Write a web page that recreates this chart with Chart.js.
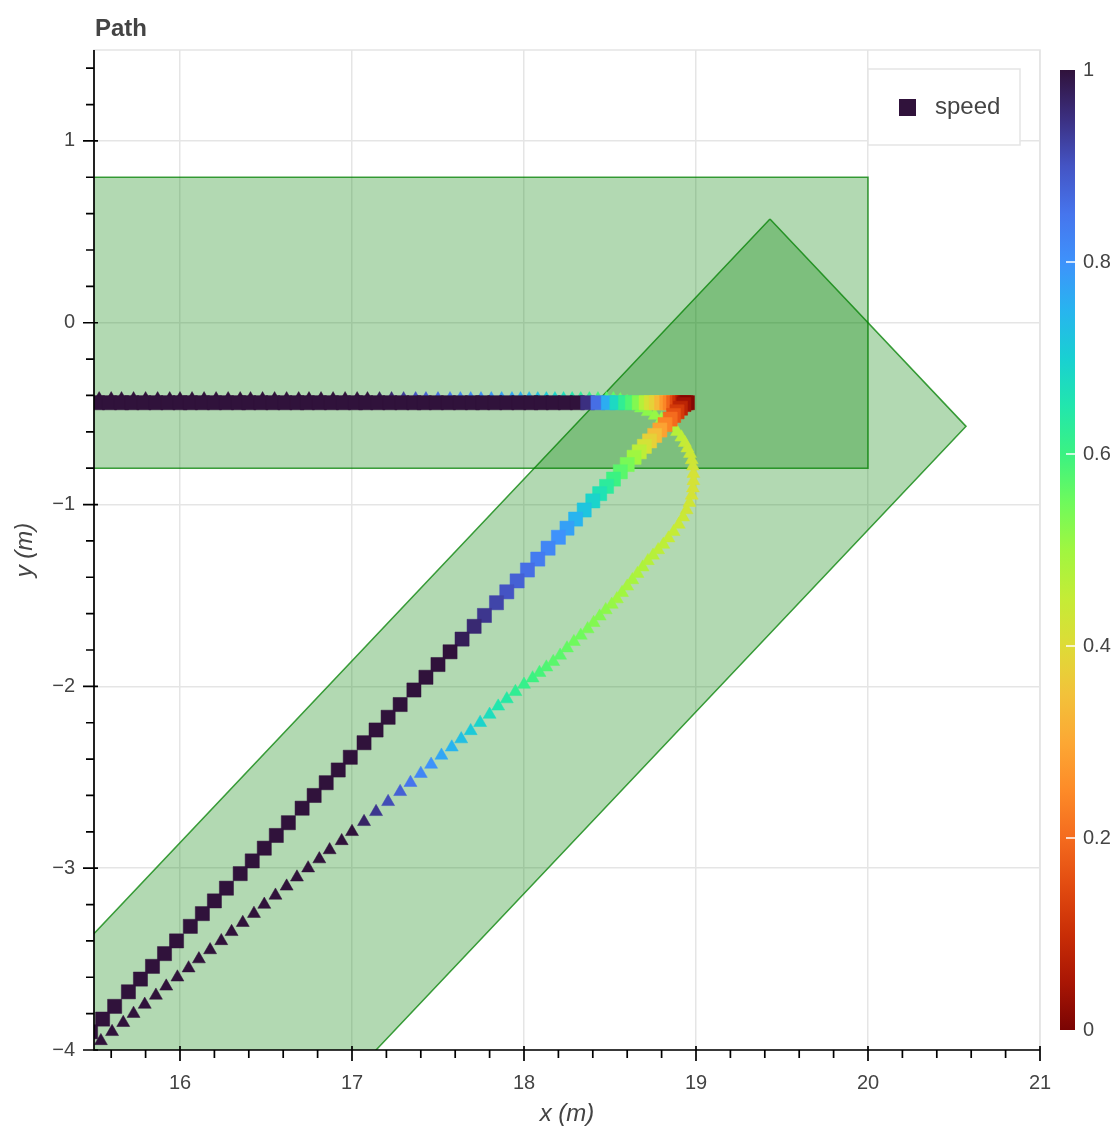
<!DOCTYPE html>
<html>
<head>
<meta charset="utf-8">
<title>Path</title>
<script src="https://cdn.jsdelivr.net/npm/chart.js@4.4.0/dist/chart.umd.min.js"></script>
<style>
  html, body { margin: 0; padding: 0; background: #fff; }
  #wrap { position: relative; width: 1118px; height: 1133px; }
</style>
</head>
<body>
<div id="wrap"><canvas id="pathChart"></canvas></div>
<script>
// Path driven with square markers: straight run, braking, turn, diagonal run
const squareX = [
  15.45, 15.52, 15.59, 15.66, 15.72, 15.79, 15.86, 15.93, 16.00, 16.06,
  16.13, 16.20, 16.27, 16.34, 16.40, 16.47, 16.54, 16.61, 16.68, 16.74,
  16.81, 16.88, 16.95, 17.02, 17.08, 17.15, 17.22, 17.29, 17.36, 17.42,
  17.49, 17.56, 17.63, 17.70, 17.76, 17.83, 17.90, 17.97, 18.04, 18.10,
  18.17, 18.24, 18.31,
  18.37, 18.43, 18.49, 18.54, 18.59, 18.63, 18.67, 18.71, 18.74, 18.77,
  18.80, 18.83, 18.85, 18.87, 18.89, 18.905, 18.92, 18.93, 18.94, 18.95,
  18.93, 18.91, 18.89, 18.87, 18.85, 18.82, 18.79, 18.76, 18.73, 18.70,
  18.67, 18.64, 18.60, 18.56, 18.52, 18.48, 18.44, 18.40, 18.35, 18.30,
  18.25, 18.20, 18.14, 18.08, 18.02, 17.96, 17.90, 17.84, 17.77, 17.71,
  17.64, 17.57,
  17.50, 17.43, 17.36, 17.28, 17.21, 17.14, 17.07, 16.99, 16.92, 16.85,
  16.78, 16.71, 16.63, 16.56, 16.49, 16.42, 16.35, 16.27, 16.20, 16.13,
  16.06, 15.98, 15.91, 15.84, 15.77, 15.70, 15.62, 15.55, 15.48
];
const squareY = [
  -0.44, -0.44, -0.44, -0.44, -0.44, -0.44, -0.44, -0.44, -0.44, -0.44,
  -0.44, -0.44, -0.44, -0.44, -0.44, -0.44, -0.44, -0.44, -0.44, -0.44,
  -0.44, -0.44, -0.44, -0.44, -0.44, -0.44, -0.44, -0.44, -0.44, -0.44,
  -0.44, -0.44, -0.44, -0.44, -0.44, -0.44, -0.44, -0.44, -0.44, -0.44,
  -0.44, -0.44, -0.44,
  -0.44, -0.44, -0.44, -0.44, -0.44, -0.44, -0.44, -0.44, -0.44, -0.44,
  -0.44, -0.44, -0.44, -0.44, -0.44, -0.44, -0.44, -0.44, -0.44, -0.44,
  -0.45, -0.47, -0.49, -0.51, -0.53, -0.56, -0.59, -0.62, -0.65, -0.68,
  -0.71, -0.74, -0.78, -0.82, -0.86, -0.90, -0.94, -0.98, -1.03, -1.08,
  -1.13, -1.18, -1.24, -1.30, -1.36, -1.42, -1.48, -1.54, -1.61, -1.67,
  -1.74, -1.81,
  -1.88, -1.95, -2.02, -2.10, -2.17, -2.24, -2.31, -2.39, -2.46, -2.53,
  -2.60, -2.67, -2.75, -2.82, -2.89, -2.96, -3.03, -3.11, -3.18, -3.25,
  -3.32, -3.40, -3.47, -3.54, -3.61, -3.68, -3.76, -3.83, -3.90
];
const squareSpeed = [
  1, 1, 1, 1, 1, 1, 1, 1, 1, 1,
  1, 1, 1, 1, 1, 1, 1, 1, 1, 1,
  1, 1, 1, 1, 1, 1, 1, 1, 1, 1,
  1, 1, 1, 1, 1, 1, 1, 1, 1, 1,
  1, 1, 1,
  0.95, 0.86, 0.76, 0.68, 0.62, 0.58, 0.53, 0.47, 0.42, 0.38,
  0.33, 0.28, 0.24, 0.19, 0.15, 0.11, 0.08, 0.05, 0.03, 0.01,
  0.04, 0.08, 0.12, 0.16, 0.20, 0.24, 0.29, 0.34, 0.38, 0.42,
  0.46, 0.50, 0.54, 0.57, 0.60, 0.63, 0.66, 0.69, 0.72, 0.75,
  0.78, 0.80, 0.82, 0.84, 0.86, 0.88, 0.90, 0.92, 0.94, 0.96,
  0.98, 1,
  1, 1, 1, 1, 1, 1, 1, 1, 1, 1,
  1, 1, 1, 1, 1, 1, 1, 1, 1, 1,
  1, 1, 1, 1, 1, 1, 1, 1, 1
];

// Path driven with triangle markers: straight run, wide turn, diagonal run
const triangleX = [
  15.46, 15.53, 15.60, 15.66, 15.73, 15.80, 15.87, 15.94, 16.00, 16.07,
  16.14, 16.21, 16.28, 16.35, 16.41, 16.48, 16.55, 16.62, 16.69, 16.75,
  16.82, 16.89, 16.96, 17.03, 17.09, 17.16, 17.23, 17.30, 17.37, 17.43,
  17.50, 17.57, 17.63, 17.69, 17.75, 17.81, 17.87, 17.93, 17.98, 18.03,
  18.08, 18.13, 18.18, 18.23, 18.28, 18.33, 18.38, 18.43, 18.48,
  18.52, 18.56, 18.60, 18.64, 18.68, 18.72, 18.76, 18.80, 18.83, 18.86,
  18.89, 18.915, 18.935, 18.95, 18.965, 18.975, 18.982, 18.985, 18.985, 18.982,
  18.975, 18.962, 18.945, 18.925, 18.90, 18.87, 18.84, 18.81, 18.78, 18.75,
  18.72, 18.69, 18.66, 18.63, 18.60, 18.57, 18.54, 18.51, 18.475, 18.44,
  18.405, 18.37, 18.33, 18.29, 18.25, 18.21, 18.17, 18.13, 18.09, 18.05,
  18.00, 17.95, 17.90, 17.85, 17.80, 17.745, 17.69, 17.635, 17.58, 17.52,
  17.46, 17.40, 17.34, 17.28, 17.21, 17.14, 17.07,
  17.00, 16.94, 16.87, 16.81, 16.745, 16.68, 16.62, 16.555, 16.49, 16.43,
  16.365, 16.30, 16.24, 16.175, 16.11, 16.05, 15.985, 15.92, 15.86, 15.795,
  15.73, 15.67, 15.605, 15.54, 15.48
];
const triangleY = [
  -0.42, -0.42, -0.42, -0.42, -0.42, -0.42, -0.42, -0.42, -0.42, -0.42,
  -0.42, -0.42, -0.42, -0.42, -0.42, -0.42, -0.42, -0.42, -0.42, -0.42,
  -0.42, -0.42, -0.42, -0.42, -0.42, -0.42, -0.42, -0.42, -0.42, -0.42,
  -0.42, -0.42, -0.42, -0.42, -0.42, -0.42, -0.42, -0.42, -0.42, -0.42,
  -0.42, -0.42, -0.42, -0.42, -0.42, -0.42, -0.42, -0.42, -0.42,
  -0.42, -0.425, -0.435, -0.45, -0.47, -0.49, -0.51, -0.53, -0.55, -0.575,
  -0.60, -0.63, -0.66, -0.69, -0.72, -0.755, -0.79, -0.83, -0.87, -0.91,
  -0.95, -0.99, -1.03, -1.07, -1.11, -1.15, -1.185, -1.22, -1.25, -1.28,
  -1.31, -1.345, -1.38, -1.415, -1.45, -1.485, -1.52, -1.55, -1.58, -1.615,
  -1.65, -1.685, -1.72, -1.755, -1.79, -1.83, -1.865, -1.895, -1.925, -1.955,
  -1.99, -2.03, -2.07, -2.11, -2.155, -2.20, -2.245, -2.29, -2.335, -2.38,
  -2.43, -2.48, -2.53, -2.58, -2.635, -2.69, -2.745,
  -2.80, -2.85, -2.90, -2.95, -3.00, -3.05, -3.10, -3.15, -3.20, -3.25,
  -3.30, -3.35, -3.40, -3.45, -3.50, -3.55, -3.60, -3.65, -3.70, -3.75,
  -3.80, -3.85, -3.90, -3.95, -4.00
];
const triangleSpeed = [
  1, 1, 1, 1, 1, 1, 1, 1, 1, 1,
  1, 1, 1, 1, 1, 1, 1, 1, 1, 1,
  1, 1, 1, 1, 1, 0.98, 0.96, 0.93, 0.90, 0.88,
  0.86, 0.84, 0.82, 0.81, 0.80, 0.79, 0.78, 0.77, 0.76, 0.75,
  0.73, 0.71, 0.69, 0.67, 0.65, 0.63, 0.61, 0.59, 0.57,
  0.56, 0.55, 0.55, 0.54, 0.53, 0.52, 0.51, 0.50, 0.49, 0.48,
  0.47, 0.46, 0.45, 0.44, 0.44, 0.43, 0.43, 0.42, 0.42, 0.42,
  0.42, 0.43, 0.43, 0.44, 0.44, 0.45, 0.45, 0.46, 0.46, 0.47,
  0.47, 0.48, 0.48, 0.49, 0.49, 0.50, 0.50, 0.51, 0.52, 0.53,
  0.53, 0.54, 0.55, 0.55, 0.56, 0.57, 0.57, 0.58, 0.59, 0.60,
  0.61, 0.62, 0.64, 0.65, 0.67, 0.69, 0.71, 0.73, 0.75, 0.77,
  0.80, 0.82, 0.85, 0.88, 0.91, 0.94, 0.97,
  1, 1, 1, 1, 1, 1, 1, 1, 1, 1,
  1, 1, 1, 1, 1, 1, 1, 1, 1, 1,
  1, 1, 1, 1, 1
];

// Drivable areas: straight lane and the 45 degree turn lane
const laneX = [15.0, 20.0, 20.0, 15.0, 15.0];
const laneY = [0.8, 0.8, -0.8, -0.8, 0.8];
const turnLaneX = [19.43, 20.57, 16.14, 13.86, 19.43];
const turnLaneY = [0.57, -0.57, -5.0, -5.0, 0.57];

// Axes
const xMajorTicks = [16, 17, 18, 19, 20, 21];
const xTickLabels = ['16', '17', '18', '19', '20', '21'];
const yMajorTicks = [-4, -3, -2, -1, 0, 1];
const yTickLabels = ['\u22124', '\u22123', '\u22122', '\u22121', '0', '1'];
const cbarTicks = [0, 0.2, 0.4, 0.6, 0.8, 1];
const cbarLabels = ['0', '0.2', '0.4', '0.6', '0.8', '1'];

// speed 0 -> 1 in steps of 0.05 (reversed turbo)
const speedColors = [
  '#7a0403', '#a91604', '#c92e06', '#e24b10', '#f46b1e', '#fd8b28', '#fca834',
  '#f2c23a', '#dedb37', '#c4ec36', '#a0f640', '#6efa5c', '#3bf282', '#22e6ad',
  '#19d0d2', '#28b4ef', '#3e92fb', '#4675ed', '#4454c4', '#3b2f80', '#30123b'
];

const FONT = "'Liberation Sans', Arial, Helvetica, sans-serif";
const TEXT = '#444444';
const minorStep = 0.2;
const cbarPad = 20 / 960;

function hexRgb(h) {
  return [parseInt(h.slice(1, 3), 16), parseInt(h.slice(3, 5), 16), parseInt(h.slice(5, 7), 16)];
}

function speedColor(s) {
  const t = Math.min(Math.max(s, 0), 1) * (speedColors.length - 1);
  const i = Math.min(Math.floor(t), speedColors.length - 2);
  const f = t - i;
  const a = hexRgb(speedColors[i]);
  const b = hexRgb(speedColors[i + 1]);
  const c = a.map((v, k) => Math.round(v + (b[k] - v) * f));
  return `rgb(${c[0]},${c[1]},${c[2]})`;
}

function tickValues(from, to) {
  const out = [];
  for (let k = 0; ; k++) {
    const v = Math.round((from + k * minorStep) * 10) / 10;
    if (v > to + 1e-9) break;
    out.push({ value: v });
  }
  return out;
}

function labelFor(v, majors, labels) {
  const idx = majors.findIndex(m => Math.abs(m - v) < 1e-6);
  return idx >= 0 ? labels[idx] : '';
}

function isMajor(v, majors) {
  return majors.some(m => Math.abs(m - v) < 1e-6);
}

// keep tick labels from pushing the plot frame around
function noOverflow(s) {
  s.paddingTop = 0;
  s.paddingBottom = 0;
  s.paddingLeft = 0;
  s.paddingRight = 0;
}

const toPoints = (xs, ys) => xs.map((x, i) => ({ x, y: ys[i] }));

// title, axis lines, tick marks, legend and colour bar
const decorPlugin = {
  id: 'decor',
  beforeDatasetsDraw(chart) {
    const { ctx, chartArea: a } = chart;
    ctx.save();
    ctx.strokeStyle = '#e5e5e5';
    ctx.lineWidth = 1.5;
    ctx.strokeRect(a.left, a.top, a.right - a.left, a.bottom - a.top);
    ctx.restore();
  },
  afterDatasetsDraw(chart) {
    const { ctx, chartArea: a, scales } = chart;
    ctx.save();
    ctx.strokeStyle = '#000';
    ctx.lineWidth = 1.7;
    ctx.beginPath();
    ctx.moveTo(a.left, a.top);
    ctx.lineTo(a.left, a.bottom);
    ctx.lineTo(a.right, a.bottom);
    ctx.stroke();

    ctx.beginPath();
    scales.x.ticks.forEach(t => {
      const px = scales.x.getPixelForValue(t.value);
      if (isMajor(t.value, xMajorTicks)) {
        ctx.moveTo(px, a.bottom - 4);
        ctx.lineTo(px, a.bottom + 11);
      } else {
        ctx.moveTo(px, a.bottom);
        ctx.lineTo(px, a.bottom + 8);
      }
    });
    scales.y.ticks.forEach(t => {
      const py = scales.y.getPixelForValue(t.value);
      if (isMajor(t.value, yMajorTicks)) {
        ctx.moveTo(a.left + 4, py);
        ctx.lineTo(a.left - 11, py);
      } else {
        ctx.moveTo(a.left, py);
        ctx.lineTo(a.left - 8, py);
      }
    });
    ctx.stroke();
    ctx.restore();
  },
  afterDraw(chart) {
    const { ctx, chartArea: a, scales } = chart;
    ctx.save();

    // title
    ctx.fillStyle = TEXT;
    ctx.font = `bold 24px ${FONT}`;
    ctx.textAlign = 'left';
    ctx.textBaseline = 'alphabetic';
    ctx.fillText('Path', a.left + 1, 36);

    // legend
    const lw = 152, lh = 76;
    const lx = a.right - 20 - lw;
    const ly = a.top + 19;
    ctx.fillStyle = 'rgba(255,255,255,0.95)';
    ctx.fillRect(lx, ly, lw, lh);
    ctx.strokeStyle = '#e5e5e5';
    ctx.lineWidth = 1.5;
    ctx.strokeRect(lx, ly, lw, lh);
    ctx.fillStyle = speedColor(squareSpeed[0]);
    ctx.fillRect(lx + 31, ly + 30, 17, 17);
    ctx.fillStyle = TEXT;
    ctx.font = `24px ${FONT}`;
    ctx.textBaseline = 'middle';
    ctx.fillText('speed', lx + 67, ly + 38);

    // colour bar
    const cb = scales.cbar;
    const y0 = cb.getPixelForValue(0);
    const y1 = cb.getPixelForValue(1);
    const bx = cb.left + 20;
    const bw = 15;
    const grad = ctx.createLinearGradient(0, y0, 0, y1);
    speedColors.forEach((c, i) => grad.addColorStop(i / (speedColors.length - 1), c));
    ctx.fillStyle = grad;
    ctx.fillRect(bx, y1, bw, y0 - y1);
    ctx.strokeStyle = '#ffffff';
    ctx.lineWidth = 1.5;
    ctx.beginPath();
    cbarTicks.forEach(v => {
      if (v <= 0 || v >= 1) return;
      const py = cb.getPixelForValue(v);
      ctx.moveTo(bx + bw - 9, py);
      ctx.lineTo(bx + bw, py);
    });
    ctx.stroke();
    ctx.restore();
  }
};

Chart.defaults.font.family = FONT;

new Chart(document.getElementById('pathChart'), {
  type: 'scatter',
  data: {
    datasets: [
      {
        label: 'speed',
        data: toPoints(squareX, squareY),
        pointStyle: 'rect',
        pointRadius: 10,
        pointBackgroundColor: squareSpeed.map(speedColor),
        pointBorderColor: squareSpeed.map(speedColor),
        pointBorderWidth: 0.5,
        order: 0,
        clip: 0
      },
      {
        label: 'speed (second run)',
        data: toPoints(triangleX, triangleY),
        pointStyle: 'triangle',
        pointRadius: 7.5,
        pointBackgroundColor: triangleSpeed.map(speedColor),
        pointBorderColor: triangleSpeed.map(speedColor),
        pointBorderWidth: 0.5,
        order: 1,
        clip: 0
      },
      {
        label: 'lane',
        data: toPoints(laneX, laneY),
        showLine: true,
        fill: 'shape',
        tension: 0,
        backgroundColor: 'rgba(0,128,0,0.3)',
        borderColor: 'rgba(0,128,0,0.75)',
        borderWidth: 1.5,
        pointRadius: 0,
        order: 2,
        clip: 0
      },
      {
        label: 'turn lane',
        data: toPoints(turnLaneX, turnLaneY),
        showLine: true,
        fill: 'shape',
        tension: 0,
        backgroundColor: 'rgba(0,128,0,0.3)',
        borderColor: 'rgba(0,128,0,0.75)',
        borderWidth: 1.5,
        pointRadius: 0,
        order: 3,
        clip: 0
      }
    ]
  },
  options: {
    responsive: true,
    maintainAspectRatio: false,
    animation: false,
    events: [],
    layout: { padding: { top: 50, right: 0, bottom: 0, left: 0 } },
    plugins: {
      legend: { display: false },
      tooltip: { enabled: false },
      title: { display: false }
    },
    scales: {
      x: {
        type: 'linear',
        min: 15.5,
        max: 21,
        afterBuildTicks: s => { s.ticks = tickValues(15.6, 21); },
        afterFit: s => { s.height = 83; noOverflow(s); },
        grid: {
          drawTicks: false,
          lineWidth: 1.5,
          color: c => (c.tick && isMajor(c.tick.value, xMajorTicks) ? '#e5e5e5' : 'rgba(0,0,0,0)')
        },
        border: { display: false },
        ticks: {
          autoSkip: false,
          maxRotation: 0,
          padding: 21,
          color: TEXT,
          font: { size: 20 },
          callback: v => labelFor(v, xMajorTicks, xTickLabels)
        },
        title: {
          display: true,
          text: 'x (m)',
          color: TEXT,
          font: { size: 24, style: 'italic' },
          padding: { top: 0, bottom: 4 }
        }
      },
      y: {
        type: 'linear',
        min: -4,
        max: 1.5,
        afterBuildTicks: s => { s.ticks = tickValues(-4, 1.4); },
        afterFit: s => { s.width = 94; noOverflow(s); },
        grid: {
          drawTicks: false,
          lineWidth: 1.5,
          color: c => (c.tick && isMajor(c.tick.value, yMajorTicks) ? '#e5e5e5' : 'rgba(0,0,0,0)')
        },
        border: { display: false },
        ticks: {
          autoSkip: false,
          padding: 19,
          color: TEXT,
          font: { size: 20 },
          callback: v => labelFor(v, yMajorTicks, yTickLabels)
        },
        title: {
          display: true,
          text: 'y (m)',
          color: TEXT,
          font: { size: 24, style: 'italic' },
          padding: { top: 11, bottom: 0 }
        }
      },
      cbar: {
        type: 'linear',
        axis: 'y',
        position: 'right',
        min: -cbarPad,
        max: 1 + cbarPad,
        afterBuildTicks: s => { s.ticks = cbarTicks.map(v => ({ value: v })); },
        afterFit: s => { s.width = 78; noOverflow(s); },
        grid: { display: false, drawTicks: false },
        border: { display: false },
        ticks: {
          autoSkip: false,
          padding: 43,
          color: TEXT,
          font: { size: 20 },
          callback: v => labelFor(v, cbarTicks, cbarLabels)
        }
      }
    }
  },
  plugins: [decorPlugin]
});
</script>
</body>
</html>
